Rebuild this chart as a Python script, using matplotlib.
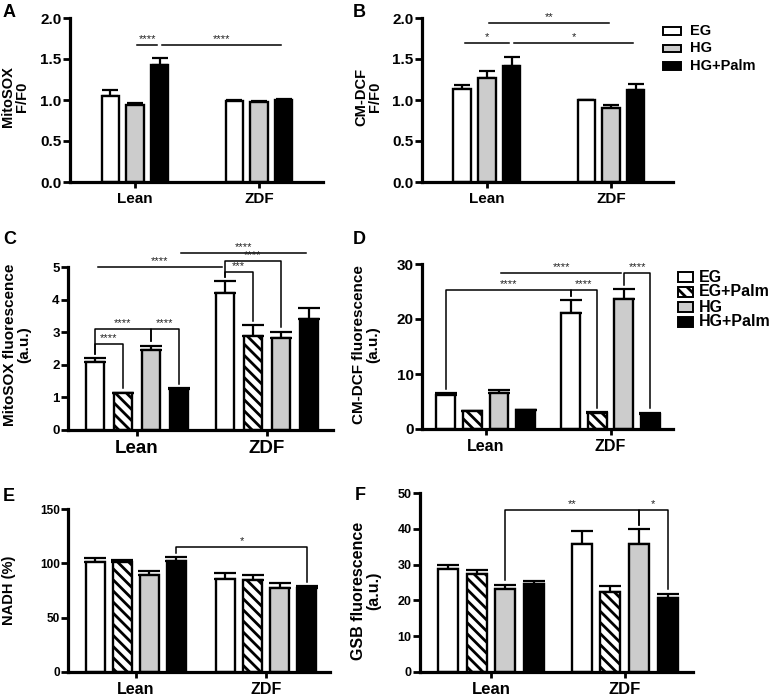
import numpy as np
import matplotlib.pyplot as plt
from matplotlib.patches import Rectangle

plt.rcParams['font.family'] = ['Liberation Sans', 'DejaVu Sans']
plt.rcParams['font.weight'] = 'bold'
plt.rcParams['hatch.linewidth'] = 2.0

W, H = 777, 696

groups = ['Lean', 'ZDF']
conds3 = ['EG', 'HG', 'HG+Palm']
conds4 = ['EG', 'EG+Palm', 'HG', 'HG+Palm']

# panel A: MitoSOX F/F0
a_mean = [1.05, 0.94, 1.43, 0.99, 0.98, 1.00]
a_err = [0.07, 0.02, 0.08, 0.01, 0.01, 0.01]
# panel B: CM-DCF F/F0
b_mean = [1.14, 1.27, 1.42, 1.00, 0.90, 1.12]
b_err = [0.04, 0.08, 0.11, 0.005, 0.04, 0.07]
# panel C: MitoSOX fluorescence
c_mean = [2.09, 1.13, 2.44, 1.25, 4.2, 2.88, 2.83, 3.39]
c_err = [0.13, 0.02, 0.15, 0.03, 0.36, 0.35, 0.19, 0.36]
# panel D: CM-DCF fluorescence
d_mean = [6.2, 3.2, 6.6, 3.4, 21.1, 2.9, 23.6, 2.8]
d_err = [0.3, 0.15, 0.45, 0.1, 2.4, 0.2, 1.9, 0.2]
# panel E: NADH
e_mean = [101, 101, 89, 102, 86, 85, 77, 77]
e_err = [3.5, 2.5, 3.5, 3.5, 5.0, 4.5, 5.0, 2.5]
# panel F: GSB fluorescence
f_mean = [28.7, 27.3, 23.2, 24.6, 35.8, 22.3, 35.8, 20.7]
f_err = [1.2, 1.2, 1.2, 0.9, 3.6, 1.7, 4.1, 1.1]

# significance marks: (bar i, bar j, height, label, kind)
a_sig = [(1, 2, 1.67, '****', 'line'), (2, 5, 1.67, '****', 'line')]
b_sig = [(1, 4, 1.94, '**', 'line'), (0, 2, 1.70, '*', 'line'),
         (2, 5, 1.70, '*', 'line')]
c_sig = [(0, 1, 2.63, '****', 'bracket'), (0, 2, 3.11, '****', 'bracket'),
         (2, 3, 3.11, '****', 'bracket'), (0, 4, 5.0, '****', 'line'),
         (4, 5, 4.85, '***', 'bracket'), (4, 6, 5.18, '****', 'bracket'),
         (3, 7, 5.44, '****', 'line')]
d_sig = [(0, 4, 25.2, '****', 'bracket'), (4, 5, 25.2, '****', 'bracket'),
         (2, 6, 28.4, '****', 'line'), (6, 7, 28.4, '****', 'bracket')]
e_sig = [(3, 7, 114.7, '*', 'bracket')]
f_sig = [(2, 6, 45.3, '**', 'bracket'), (6, 7, 45.3, '*', 'bracket')]

styles = {
    'EG': dict(facecolor='white', hatch=None),
    'EG+Palm': dict(facecolor='white', hatch='\\\\\\'),
    'HG': dict(facecolor='#cccccc', hatch=None),
    'HG+Palm': dict(facecolor='black', hatch=None),
}


def rect(x0, y0, x1, y1):
    return [x0 / W, 1 - y1 / H, (x1 - x0) / W, (y1 - y0) / H]


fig = plt.figure(figsize=(W / 100, H / 100), dpi=100)


def panel(box, conds, mean, err, sig, ylim, yticks, yfmt, xlim, step, width,
          tick_fs, cat_fs, capsize):
    ax = fig.add_axes(rect(*box))
    n = len(conds)
    xs = []
    for g in range(len(groups)):
        for k in range(n):
            xs.append(g + (k - (n - 1) / 2) * step)
    xs = np.array(xs)
    for idx, x in enumerate(xs):
        st = styles[conds[idx % n]]
        ax.bar(x, mean[idx], width, color=st['facecolor'], edgecolor='black',
               linewidth=1.7, hatch=st['hatch'], zorder=2)
    ax.errorbar(xs, mean, yerr=[np.zeros(len(err)), err], fmt='none',
                ecolor='black', elinewidth=1.6, capsize=capsize, capthick=1.6,
                zorder=1)
    ax.set_xlim(*xlim)
    ax.set_ylim(*ylim)
    ax.set_yticks(yticks)
    ax.set_yticklabels([yfmt.format(t) for t in yticks], fontsize=tick_fs,
                       fontweight='bold')
    ax.set_xticks(range(len(groups)))
    ax.set_xticklabels(groups, fontsize=cat_fs, fontweight='bold')
    for s in ['top', 'right']:
        ax.spines[s].set_visible(False)
    for s in ['left', 'bottom']:
        ax.spines[s].set_linewidth(2.3)
    ax.tick_params(axis='y', length=5, width=2, pad=1)
    ax.tick_params(axis='x', length=4, width=2, pad=3)
    top = ylim[1]
    gap = 0.025 * top
    for i, j, y, lab, kind in sig:
        if kind == 'line':
            x1, x2 = xs[i] + 0.02, xs[j] - 0.02
            ax.plot([x1, x2], [y, y], color='black', lw=1.1, clip_on=False)
        else:
            x1, x2 = xs[i], xs[j]
            y1 = mean[i] + err[i] + gap
            y2 = mean[j] + err[j] + gap
            ax.plot([x1, x1, x2, x2], [y1, y, y, y2], color='black', lw=1.1,
                    clip_on=False)
        ax.text((x1 + x2) / 2, y + 0.006 * top, lab, ha='center', va='bottom',
                fontsize=8, fontweight='normal', color='#222222')
    return ax


panel((70, 18, 323, 182), conds3, a_mean, a_err, a_sig, (0, 2.0),
      [0, 0.5, 1.0, 1.5, 2.0], '{:.1f}', (-0.524, 1.516), 0.2, 0.14, 11, 11, 6)
panel((422, 18, 673, 182), conds3, b_mean, b_err, b_sig, (0, 2.0),
      [0, 0.5, 1.0, 1.5, 2.0], '{:.1f}', (-0.524, 1.5), 0.2, 0.14, 11, 11, 6)
panel((68, 267, 333, 430), conds4, c_mean, c_err, c_sig, (0, 5),
      [0, 1, 2, 3, 4, 5], '{:d}', (-0.53, 1.51), 0.215, 0.14, 9.5, 13.5, 8)
panel((422, 264, 673, 429), conds4, d_mean, d_err, d_sig, (0, 30),
      [0, 10, 20, 30], '{:d}', (-0.51, 1.5), 0.213, 0.15, 11, 11.5, 8)
panel((68, 509, 330, 672), conds4, e_mean, e_err, e_sig, (0, 150),
      [0, 50, 100, 150], '{:d}', (-0.52, 1.49), 0.208, 0.145, 8.5, 11.5, 8)
panel((420, 493, 693, 672), conds4, f_mean, f_err, f_sig, (0, 50),
      [0, 10, 20, 30, 40, 50], '{:d}', (-0.53, 1.51), 0.214, 0.15, 9, 12, 8)

# y labels
ylabels = [
    (15, 97, 'MitoSOX\nF/F0', 10.5),
    (368, 97, 'CM-DCF\nF/F0', 10.5),
    (17, 345, 'MitoSOX fluorescence\n(a.u.)', 11),
    (366, 345, 'CM-DCF fluorescence\n(a.u.)', 11),
    (9, 590, 'NADH (%)', 10.5),
    (366, 591, 'GSB fluorescence\n(a.u.)', 11.5),
]
for x, y, t, fs in ylabels:
    fig.text(x / W, 1 - y / H, t, rotation=90, ha='center', va='center',
             fontsize=fs, fontweight='bold', linespacing=1.0,
             multialignment='center')

# panel letters
for x, y, t in [(3, 4, 'A'), (353, 4, 'B'), (3, 231, 'C'), (353, 231, 'D'),
                (3, 488, 'E'), (355, 487, 'F')]:
    fig.text(x / W, 1 - y / H, t, ha='left', va='top', fontsize=13,
             fontweight='bold')


def legend(x0, y0, dy, bw, bh, tx, labels, fs):
    for k, lab in enumerate(labels):
        yc = y0 + k * dy
        st = styles[lab]
        fig.add_artist(Rectangle((x0 / W, 1 - (yc + bh / 2) / H), bw / W,
                                 bh / H, transform=fig.transFigure,
                                 facecolor=st['facecolor'], edgecolor='black',
                                 linewidth=1.4, hatch=st['hatch']))
        fig.text(tx / W, 1 - yc / H, lab, ha='left', va='center', fontsize=fs,
                 fontweight='bold')


legend(663, 31, 17.5, 18, 7, 690, conds3, 10.5)
legend(678, 277, 15, 15, 10, 699, conds4, 11.5)

fig.savefig('out.png', dpi=100)
